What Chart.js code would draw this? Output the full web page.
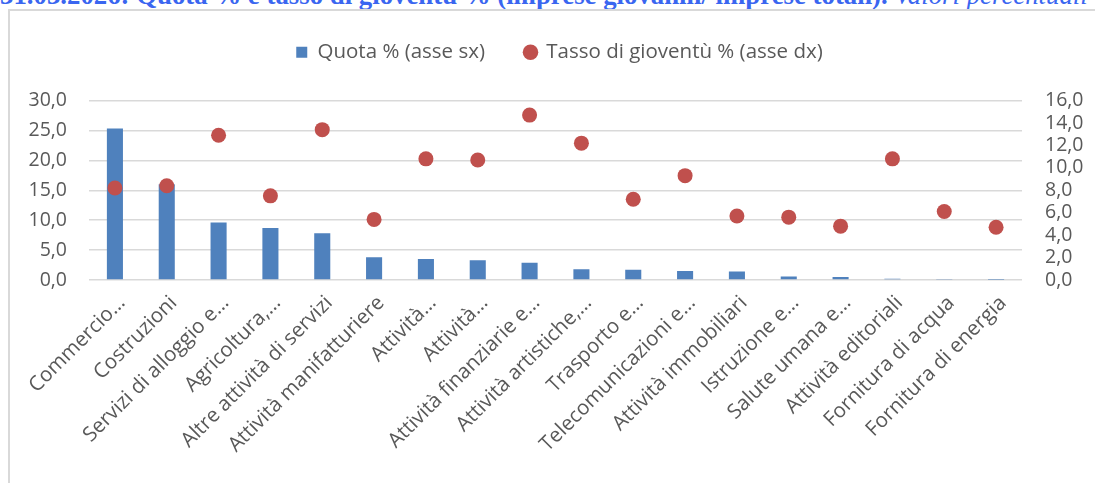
<!DOCTYPE html>
<html>
<head>
<meta charset="utf-8">
<script src="https://cdn.jsdelivr.net/npm/chart.js@4"></script>
<style>
  body { margin: 0; background: #fff; overflow: hidden; }
  #title {
    position: absolute; left: 0; top: -20px; white-space: nowrap;
    font-family: "Liberation Serif", serif; font-size: 26.8px; font-weight: bold; color: #3a66f0;
  }
  #title i { font-weight: normal; }
  #box {
    position: absolute; left: 8px; top: 9px; width: 1200px; height: 600px;
    border: 2px solid #d9d9d9;
  }
  #wrap { position: absolute; left: 0; top: 0; width: 1095px; height: 483px; }
</style>
</head>
<body>
<div id="title">31.03.2026: Quota % e tasso di gioventù % (imprese giovanili/ imprese totali). <i>Valori percentuali</i></div>
<div id="box"></div>
<div id="wrap"><canvas id="chart" width="1095" height="483"></canvas></div>
<script>
const categories = ['Commercio…', 'Costruzioni', 'Servizi di alloggio e…', 'Agricoltura,…',
  'Altre attività di servizi', 'Attività manifatturiere', 'Attività…', 'Attività…',
  'Attività finanziarie e…', 'Attività artistiche,…', 'Trasporto e…', 'Telecomunicazioni e…',
  'Attività immobiliari', 'Istruzione e…', 'Salute umana e…', 'Attività editoriali',
  'Fornitura di acqua', 'Fornitura di energia'];
// Quota % (asse sx)
const quota = [25.3, 16.0, 9.6, 8.7, 7.8, 3.8, 3.5, 3.3, 2.9, 1.8, 1.7, 1.5, 1.4, 0.6, 0.5, 0.2, 0.15, 0.05];
// Tasso di gioventù % (asse dx)
const tasso = [8.2, 8.4, 12.9, 7.5, 13.4, 5.4, 10.8, 10.7, 14.7, 12.2, 7.2, 9.3, 5.7, 5.6, 4.8, 10.8, 6.1, 4.7];
const leftTicks = [0, 5, 10, 15, 20, 25, 30];
const rightTicks = [0, 2, 4, 6, 8, 10, 12, 14, 16];

const txt = '#595959';
const font = 'Open Sans';
const fmt = v => v.toFixed(1).replace('.', ',');

// extra space between the legend and the plot area
const legendGap = {
  id: 'legendGap',
  beforeInit(chart) {
    const fit = chart.legend.fit;
    chart.legend.fit = function () {
      fit.bind(chart.legend)();
      this.height += 28;
    };
  }
};

var data = {
  labels: categories,
  datasets: [{
    type: 'line',
    label: 'Tasso di gioventù % (asse dx)',
    data: tasso,
    yAxisID: 'y1',
    showLine: false,
    pointStyle: 'circle',
    pointRadius: 7.5,
    pointHoverRadius: 7.5,
    backgroundColor: '#c0504d',
    borderColor: '#c0504d',
    borderWidth: 0,
    order: 0
  }, {
    type: 'bar',
    label: 'Quota % (asse sx)',
    data: quota,
    yAxisID: 'y',
    pointStyle: 'rect',
    backgroundColor: '#4f81bd',
    borderWidth: 0,
    barPercentage: 0.31,
    categoryPercentage: 1,
    order: 1
  }]
};

var options = {
  responsive: false,
  animation: false,
  layout: { padding: { top: 2, left: 24, right: 0, bottom: 0 } },
  plugins: {
    tooltip: { enabled: false },
    legend: {
      reverse: true,
      labels: {
        usePointStyle: true,
        boxWidth: 11,
        boxHeight: 11,
        padding: 40,
        color: txt,
        font: { family: font, size: 20.5 }
      }
    }
  },
  scales: {
    x: {
      grid: { display: false },
      border: { display: false },
      ticks: {
        color: txt,
        font: { family: font, size: 20.5 },
        maxRotation: 45,
        minRotation: 45,
        autoSkip: false,
        padding: 3,
        labelOffset: 7
      },
      afterFit: function (axis) { axis.height = 203; }
    },
    y: {
      position: 'left',
      min: 0,
      max: 30,
      afterBuildTicks: function (axis) { axis.ticks = leftTicks.map(v => ({ value: v })); },
      grid: { color: '#d9d9d9', lineWidth: 1.5, drawTicks: false },
      border: { display: false },
      ticks: {
        color: txt,
        font: { family: font, size: 19.5 },
        padding: 22,
        autoSkip: false,
        callback: function (value) { return fmt(value); }
      },
      afterFit: function (axis) { axis.width = 65; }
    },
    y1: {
      position: 'right',
      min: 0,
      max: 16,
      afterBuildTicks: function (axis) { axis.ticks = rightTicks.map(v => ({ value: v })); },
      grid: { display: false, drawTicks: false },
      border: { display: false },
      ticks: {
        color: txt,
        font: { family: font, size: 19.5 },
        padding: 23,
        autoSkip: false,
        callback: function (value) { return fmt(value); }
      },
      afterFit: function (axis) { axis.width = 73; }
    }
  }
};

new Chart('chart', {
  data: data,
  options: options,
  plugins: [legendGap]
});
</script>
</body>
</html>
